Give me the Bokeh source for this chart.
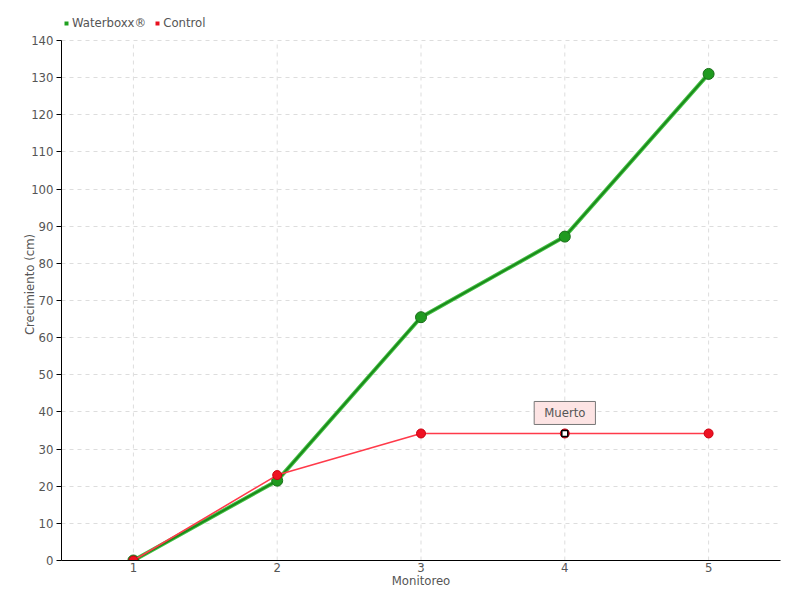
from bokeh.plotting import figure
from bokeh.models import ColumnDataSource, Legend, LegendItem, Label, FixedTicker, Range1d
from bokeh.embed import file_html
from bokeh.resources import INLINE

monitoreo = [1, 2, 3, 4, 5]
waterboxx = [0, 21.5, 65.5, 87.2, 131]
control = [0, 23, 34.2, 34.2, 34.2]
y_ticks = list(range(0, 141, 10))
y_max_tick = 140
muerto_idx = 3

FONT = "DejaVu Sans Condensed"
TXT = "#555555"

FRAME_TOP = 8
FRAME_BOTTOM = 560
TOP_TICK_PX = 40
y_top = y_max_tick * (FRAME_BOTTOM - FRAME_TOP) / (FRAME_BOTTOM - TOP_TICK_PX)

p = figure(width=800, height=600, output_backend="svg", toolbar_location=None,
           x_range=Range1d(0.5, 5.5), y_range=Range1d(0, y_top),
           min_border_left=61, min_border_right=20, min_border_top=FRAME_TOP, min_border_bottom=40)
p.outline_line_color = None

# grid
p.xgrid.visible = False
p.ygrid.grid_line_color = "#dddddd"
p.ygrid.grid_line_dash = "4 4"
p.segment(x0=monitoreo, y0=[0] * len(monitoreo), x1=monitoreo, y1=[y_max_tick] * len(monitoreo),
          line_color="#dddddd", line_dash="4 4", line_width=1)

wsrc = ColumnDataSource(dict(x=monitoreo, y=waterboxx))
csrc = ColumnDataSource(dict(x=monitoreo, y=control))

p.line("x", "y", source=wsrc, line_color="#44c044", line_width=4)
p.line("x", "y", source=wsrc, line_color="#1a8a1a", line_width=2)
p.scatter("x", "y", source=wsrc, size=11, fill_color="#1f9a1f", line_color="#1a6e1a", line_width=1)

p.line("x", "y", source=csrc, line_color="#ff3a4a", line_width=1.6)
p.scatter("x", "y", source=csrc, size=9, fill_color="#ee1122", line_color="#cc0010", line_width=1)

p.scatter([monitoreo[muerto_idx]], [control[muerto_idx]], marker="square", size=6,
          fill_color="white", line_color="black", line_width=1.5)

lab = Label(x=monitoreo[muerto_idx], y=control[muerto_idx], text="Muerto", x_units="data", y_units="data",
            text_align="center", text_baseline="bottom", y_offset=9,
            text_font=FONT, text_font_size="13px", text_color=TXT,
            background_fill_color="#fde4e4", border_line_color="#777777", border_line_width=1,
            padding=(10, 4))
p.add_layout(lab)

# axes
p.xaxis.ticker = FixedTicker(ticks=monitoreo)
p.yaxis.ticker = FixedTicker(ticks=y_ticks)
p.yaxis.bounds = (0, y_max_tick)
for ax in (p.xaxis[0], p.yaxis[0]):
    ax.axis_line_color = "black"
    ax.major_tick_line_color = "black"
    ax.minor_tick_line_color = None
    ax.major_tick_out = 5
    ax.major_tick_in = 0
    ax.major_label_text_font = FONT
    ax.major_label_text_font_size = "13px"
    ax.major_label_text_color = TXT
    ax.axis_label_text_font = FONT
    ax.axis_label_text_font_size = "13px"
    ax.axis_label_text_color = TXT
    ax.axis_label_text_font_style = "normal"
p.xaxis.major_tick_line_color = None
p.xaxis.major_tick_out = 0
p.xaxis.axis_label = "Monitoreo"
p.yaxis.axis_label = "Crecimiento (cm)"
p.xaxis.major_label_standoff = 2
p.xaxis.axis_label_standoff = -2
p.yaxis.major_label_standoff = 3
p.yaxis.axis_label_standoff = -9

legend = Legend(items=[
    LegendItem(label="Waterboxx®", renderers=[p.scatter([0], [0], marker="square", size=7, fill_color="#1fa01f", line_color=None, visible=False)]),
    LegendItem(label="Control", renderers=[p.scatter([0], [0], marker="square", size=7, fill_color="#e8101e", line_color=None, visible=False)]),
], orientation="horizontal", location=(0, 530))
legend.label_text_font = FONT
legend.label_text_font_size = "13px"
legend.label_text_color = TXT
legend.glyph_width = 10
legend.glyph_height = 10
legend.label_height = 14
legend.label_standoff = 1
legend.spacing = 6
legend.padding = 0
legend.margin = 0
legend.border_line_color = None
legend.background_fill_alpha = 0
p.add_layout(legend)

open("out.html", "w").write(file_html(p, INLINE))
